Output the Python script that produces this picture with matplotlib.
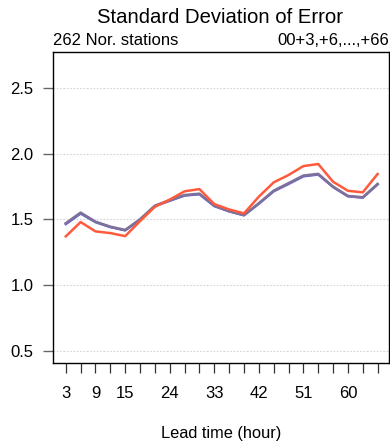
import matplotlib
matplotlib.use("Agg")
import matplotlib.pyplot as plt

# lead times (hours) and standard deviation of error per model
lead_time = list(range(3, 67, 3))
tick_labels = {3: "3", 9: "9", 15: "15", 24: "24", 33: "33", 42: "42", 51: "51", 60: "60"}

sde_red = [1.370, 1.479, 1.408, 1.395, 1.372, 1.486, 1.595, 1.650, 1.713, 1.730, 1.616,
           1.575, 1.545, 1.672, 1.781, 1.837, 1.905, 1.921, 1.786, 1.717, 1.705, 1.845]
sde_blue = [1.462, 1.543, 1.478, 1.440, 1.415, 1.497, 1.600, 1.640, 1.680, 1.690, 1.600,
            1.560, 1.530, 1.618, 1.712, 1.768, 1.826, 1.840, 1.745, 1.675, 1.664, 1.765]
sde_gray = [1.469, 1.550, 1.481, 1.443, 1.418, 1.499, 1.603, 1.645, 1.684, 1.694, 1.603,
            1.562, 1.532, 1.621, 1.717, 1.774, 1.832, 1.845, 1.748, 1.677, 1.667, 1.768]

plt.rcParams['font.family'] = ['Liberation Sans', 'DejaVu Sans']

fig = plt.figure(figsize=(3.9, 4.44), dpi=100)
ax = fig.add_axes([0.1367, 0.183, 0.8607, 0.700])

for y in [0.5, 1.0, 1.5, 2.0, 2.5]:
    ax.axhline(y, color="#d4d4d4", lw=0.8, ls=(0, (1.5, 1.5)), zorder=1)

ax.plot(lead_time, sde_blue, color="#5a5aff", lw=1.6, zorder=3)
ax.plot(lead_time, sde_gray, color="#7d7198", lw=2.0, zorder=4)
ax.plot(lead_time, sde_red, color="#ff5a3c", lw=1.8, zorder=5)

ax.set_xlim(0.48, 68.3)
ax.set_ylim(0.408, 2.774)

ax.set_xticks(lead_time)
ax.set_xticklabels([tick_labels.get(h, "") for h in lead_time])
ax.set_yticks([0.5, 1.0, 1.5, 2.0, 2.5])
ax.set_yticklabels(["0.5", "1.0", "1.5", "2.0", "2.5"])
ax.tick_params(axis="x", direction="out", length=7, width=0.9, pad=10,
               labelsize=12, color="#333333")
ax.tick_params(axis="y", direction="out", length=7.2, width=1.0, pad=7,
               labelsize=12, color="#666666")
for s in ax.spines.values():
    s.set_linewidth(1.0)
    s.set_color("black")

ax.set_xlabel("Lead time (hour)", fontsize=11.8, labelpad=18)

fig.text(0.565, 0.960, "Standard Deviation of Error", ha="center", va="center", fontsize=14.6)
fig.text(0.1367, 0.909, "262 Nor. stations", ha="left", va="center", fontsize=12)
fig.text(0.997, 0.909, "00+3,+6,...,+66", ha="right", va="center", fontsize=12)

fig.savefig("out.png", dpi=100)
